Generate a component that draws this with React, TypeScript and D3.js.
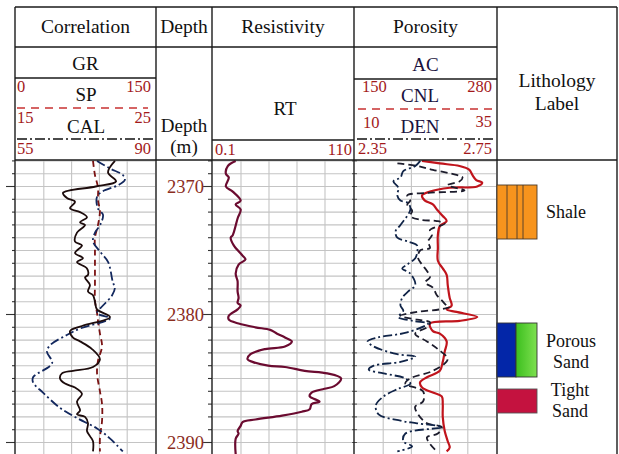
import React from 'react';
import * as d3 from 'd3';

// ---------------- data (depth in m, values in curve units) ----------------
const depthLabels = [2370, 2380, 2390];

const grDepth = [2368.0, 2368.9, 2369.6, 2370.0, 2370.5, 2370.9, 2371.2, 2371.7, 2372.0, 2372.4, 2372.8, 2373.0, 2373.6, 2374.3, 2374.6, 2375.2, 2375.6, 2375.9, 2376.4, 2376.9, 2377.1, 2377.7, 2378.2, 2378.5, 2379.0, 2379.6, 2380.2, 2380.9, 2381.3, 2381.8, 2382.1, 2382.7, 2383.5, 2384.1, 2384.4, 2384.6, 2385.0, 2385.4, 2385.7, 2386.2, 2386.8, 2387.5, 2387.8, 2388.0, 2388.5, 2389.1, 2389.5, 2389.9, 2390.7];
const grValue = [106.8, 99.3, 108.0, 86.0, 50.7, 55.0, 63.7, 58.3, 69.1, 76.6, 69.1, 74.5, 65.8, 63.7, 71.2, 63.7, 72.3, 65.8, 76.6, 77.7, 74.5, 79.8, 77.7, 83.1, 85.2, 87.4, 101.4, 71.2, 58.3, 61.5, 69.1, 82.0, 90.6, 83.1, 61.5, 49.6, 47.5, 52.9, 63.7, 71.2, 65.8, 69.1, 65.8, 74.5, 77.7, 76.6, 79.8, 83.1, 83.1];

const spDepth = [2368.0, 2369.1, 2370.1, 2371.1, 2371.9, 2373.0, 2374.0, 2375.0, 2376.4, 2377.7, 2378.9, 2379.9, 2380.5, 2381.5, 2382.5, 2383.6, 2384.6, 2386.0, 2387.0, 2388.3, 2389.6, 2390.7];
const spValue = [20.54, 20.68, 20.9, 20.9, 21.04, 20.9, 20.68, 20.68, 20.68, 20.68, 20.68, 20.83, 20.9, 21.04, 21.19, 20.9, 20.83, 21.04, 21.19, 21.19, 21.04, 21.04];

const calDepth = [2368.0, 2368.6, 2369.1, 2369.5, 2369.9, 2370.4, 2370.8, 2371.7, 2372.2, 2373.0, 2373.6, 2374.3, 2375.1, 2375.9, 2377.5, 2377.9, 2378.5, 2379.3, 2379.9, 2380.3, 2381.1, 2381.6, 2382.4, 2382.9, 2383.8, 2384.9, 2385.3, 2386.1, 2387.3, 2388.1, 2388.9, 2389.7, 2390.7];
const calValue = [75.4, 78.7, 81.9, 82.4, 80.7, 76.7, 75.4, 75.6, 76.9, 76.2, 74.9, 74.4, 76.2, 78.2, 79.4, 79.9, 79.2, 76.9, 75.4, 78.7, 71.1, 67.8, 63.6, 62.8, 64.1, 59.3, 59.3, 61.8, 66.1, 70.4, 75.4, 78.7, 81.9];

const rtDepth = [2368.0, 2368.4, 2369.0, 2369.3, 2370.0, 2370.4, 2371.1, 2371.4, 2371.8, 2372.5, 2373.8, 2374.0, 2374.6, 2375.4, 2375.7, 2376.1, 2376.8, 2377.4, 2378.2, 2378.7, 2379.1, 2379.3, 2379.6, 2380.1, 2380.4, 2380.7, 2381.0, 2381.2, 2381.5, 2381.8, 2382.1, 2382.5, 2382.7, 2383.1, 2383.5, 2383.7, 2384.0, 2384.1, 2384.4, 2384.6, 2385.0, 2385.6, 2385.8, 2386.1, 2386.4, 2386.8, 2387.0, 2387.4, 2387.6, 2387.9, 2388.2, 2388.4, 2388.7, 2389.1, 2389.3, 2389.7, 2390.9];
const rtValue = [17.9, 11.7, 10.2, 12.5, 10.2, 15.6, 21.8, 17.9, 21.8, 19.4, 15.6, 14.0, 16.4, 23.3, 25.6, 20.2, 17.9, 19.4, 19.4, 20.2, 19.4, 21.8, 19.4, 12.5, 12.5, 20.2, 33.4, 45.0, 50.4, 56.6, 62.0, 56.6, 41.1, 29.5, 27.2, 31.1, 43.4, 56.6, 72.1, 89.9, 100.7, 95.3, 87.6, 77.5, 76.0, 83.7, 77.5, 76.0, 69.8, 54.3, 33.4, 23.3, 21.8, 19.4, 20.2, 17.9, 17.9];

const acDepth = [2368.0, 2368.2, 2368.4, 2368.7, 2369.1, 2369.5, 2369.7, 2370.0, 2370.1, 2370.4, 2370.7, 2371.1, 2371.4, 2371.8, 2372.3, 2372.7, 2373.1, 2373.8, 2374.8, 2375.8, 2376.4, 2376.9, 2377.7, 2378.7, 2379.3, 2379.6, 2379.8, 2380.2, 2380.5, 2380.7, 2381.3, 2381.5, 2382.1, 2382.9, 2383.7, 2384.4, 2384.9, 2385.3, 2385.7, 2386.1, 2386.4, 2387.0, 2388.0, 2389.1, 2389.9, 2390.4, 2390.7];
const acValue = [211.8, 228.2, 246.4, 255.5, 258.2, 261.8, 267.3, 262.7, 237.3, 219.1, 211.8, 214.5, 221.8, 225.5, 230.9, 234.5, 228.2, 226.4, 226.4, 226.4, 230.9, 234.5, 235.5, 237.3, 239.1, 234.5, 243.6, 262.7, 246.4, 219.1, 221.8, 228.2, 234.5, 232.7, 230.9, 228.2, 216.4, 210.0, 211.8, 221.8, 230.0, 230.9, 230.9, 232.7, 235.5, 237.3, 234.5];

const cnlDepth = [2368.2, 2368.4, 2368.7, 2369.1, 2369.3, 2369.6, 2369.9, 2370.3, 2370.5, 2370.7, 2371.1, 2371.4, 2371.9, 2372.3, 2372.6, 2372.7, 2372.9, 2373.4, 2373.8, 2374.3, 2374.8, 2375.0, 2375.6, 2376.1, 2376.6, 2377.1, 2377.5, 2377.9, 2378.5, 2378.9, 2379.3, 2379.4, 2379.6, 2379.8, 2380.1, 2380.4, 2380.6, 2381.0, 2381.5, 2382.1, 2382.7, 2383.5, 2384.4, 2385.0, 2385.4, 2386.0, 2386.8, 2387.2, 2387.8, 2388.5, 2388.8, 2389.3, 2389.6, 2390.1, 2390.7];
const cnlValue = [17.52, 21.01, 23.81, 28.01, 29.06, 28.53, 26.43, 29.41, 22.76, 19.27, 19.79, 19.27, 20.14, 19.79, 21.54, 24.51, 25.91, 23.29, 23.64, 22.94, 23.29, 21.54, 21.19, 21.89, 22.76, 23.29, 22.41, 23.81, 24.51, 25.39, 26.26, 26.78, 25.04, 21.01, 18.04, 21.01, 23.29, 22.76, 20.66, 22.76, 24.69, 26.43, 23.81, 19.79, 18.92, 22.06, 22.06, 20.66, 21.19, 22.76, 25.39, 24.69, 22.76, 23.29, 24.51];

const denDepth = [2368.0, 2368.4, 2368.8, 2369.3, 2369.6, 2370.1, 2370.7, 2371.1, 2371.3, 2371.8, 2373.0, 2373.5, 2374.0, 2374.3, 2374.6, 2375.2, 2375.6, 2376.1, 2376.4, 2376.8, 2377.7, 2378.2, 2378.7, 2379.3, 2379.7, 2380.2, 2380.5, 2380.7, 2381.4, 2381.8, 2382.1, 2382.5, 2383.1, 2383.3, 2383.7, 2384.0, 2384.3, 2384.6, 2385.0, 2385.4, 2385.8, 2386.4, 2387.1, 2387.8, 2388.3, 2388.5, 2388.8, 2389.3, 2389.9, 2390.3, 2390.7];
const denValue = [2.535, 2.521, 2.487, 2.479, 2.459, 2.473, 2.47, 2.479, 2.501, 2.507, 2.479, 2.465, 2.47, 2.501, 2.526, 2.526, 2.521, 2.498, 2.484, 2.507, 2.521, 2.501, 2.484, 2.479, 2.487, 2.473, 2.515, 2.557, 2.498, 2.414, 2.386, 2.403, 2.47, 2.521, 2.479, 2.403, 2.389, 2.431, 2.493, 2.507, 2.473, 2.431, 2.409, 2.417, 2.479, 2.526, 2.596, 2.493, 2.487, 2.512, 2.47];

// scale labels
const grRange = [0, 150];
const spRange = [15, 25];
const calRange = [55, 90];
const rtRange = [0.1, 110];
const acRange = [150, 280];
const cnlRange = [10, 35];
const denRange = [2.35, 2.75];

const lithNames = ['Shale', 'Porous', 'Tight'];

const FONT = "'Liberation Serif','Times New Roman',serif";
const NUM = '#a3191b';

export default function App() {
  const W = 619, H = 454;
  const X = { l: 15, depthL: 156, resL: 212, porL: 354, lithL: 497, r: 617 };
  const topY = 7, titleB = 47, headB = 160;

  const y = d3.scaleLinear().domain([2370, 2390]).range([186.5, 442.5]);
  const corr: [number, number] = [16, 155];
  const res: [number, number] = [213, 353];
  const por: [number, number] = [355, 496];

  const xGR = d3.scaleLinear().domain(grRange).range(corr);
  const xSP = d3.scaleLinear().domain(spRange).range(corr);
  const xCAL = d3.scaleLinear().domain(calRange).range(corr);
  const xRT = d3.scaleLinear().domain(rtRange).range(res);
  const xAC = d3.scaleLinear().domain(acRange).range(por);
  const xCNL = d3.scaleLinear().domain(cnlRange).range(por);
  const xDEN = d3.scaleLinear().domain(denRange).range(por);

  const mk = (depths: number[], vals: number[], xs: any) =>
    d3.line<number>()
      .x((_, i) => xs(vals[i]))
      .y((d) => y(d))
      .curve(d3.curveCatmullRom.alpha(0.5))(depths) || '';

  const gridDepths = d3.range(2368, 2391);
  const tracks = [corr, res, por];
  const vgrid = (t: [number, number]) => d3.range(1, 5).map((k) => t[0] + ((t[1] - t[0]) * k) / 5);

  const border = '#1a1a1a';
  const txt = (x: number, yy: number, s: string, size: number, anchor = 'middle', fill = '#111') => (
    <text x={x} y={yy} fontSize={size} textAnchor={anchor} fill={fill} fontFamily={FONT}>{s}</text>
  );

  return (
    <svg width={W} height={H} style={{ position: 'absolute', left: 0, top: 0, background: '#fff' }}>
      <defs>
        <clipPath id="cCorr"><rect x={corr[0]} y={headB} width={corr[1] - corr[0]} height={H - headB} /></clipPath>
        <clipPath id="cRes"><rect x={res[0]} y={headB} width={res[1] - res[0]} height={H - headB} /></clipPath>
        <clipPath id="cPor"><rect x={por[0]} y={headB} width={por[1] - por[0]} height={H - headB} /></clipPath>
        <linearGradient id="gGreen" x1="0" x2="1" y1="0" y2="0">
          <stop offset="0" stopColor="#3cbf1e" />
          <stop offset="1" stopColor="#7ee050" />
        </linearGradient>
      </defs>
      <rect x={0} y={0} width={W} height={H} fill="#fff" />

      {/* grids */}
      {tracks.map((t, ti) => (
        <g key={'g' + ti}>
          {gridDepths.map((d) => (
            <line key={d} x1={t[0]} x2={t[1]} y1={y(d)} y2={y(d)} stroke="#c4c4c4" strokeWidth={1.1} />
          ))}
          {vgrid(t).map((gx) => (
            <line key={gx} x1={gx} x2={gx} y1={headB} y2={H} stroke="#c4c4c4" strokeWidth={1.1} />
          ))}
        </g>
      ))}

      {/* depth ticks */}
      {gridDepths.map((d) => {
        const major = d % 10 === 0;
        return (
          <g key={'t' + d}>
            <line x1={major ? 6 : 12} x2={X.l} y1={y(d)} y2={y(d)} stroke="#333" strokeWidth={1.1} />
            <line x1={major ? 203 : 208} x2={X.resL} y1={y(d)} y2={y(d)} stroke="#333" strokeWidth={1.1} />
            <line x1={X.porL - 2} x2={X.porL + 3} y1={y(d)} y2={y(d)} stroke="#555" strokeWidth={1} />
          </g>
        );
      })}
      {depthLabels.map((d) => txt(204, y(d) + 6.5, String(d), 18.5, 'end', '#8b2e1e'))}

      {/* curves */}
      <g clipPath="url(#cCorr)" fill="none" strokeLinejoin="round">
        <path d={mk(spDepth, spValue, xSP)} stroke="#7a1212" strokeWidth={1.8} strokeDasharray="6,4" />
        <path d={mk(calDepth, calValue, xCAL)} stroke="#13285e" strokeWidth={1.8} strokeDasharray="9,3,2,3" />
        <path d={mk(grDepth, grValue, xGR)} stroke="#1d0c0c" strokeWidth={1.8} />
      </g>
      <g clipPath="url(#cRes)" fill="none">
        <path d={mk(rtDepth, rtValue, xRT)} stroke="#6b0b30" strokeWidth={2.2} />
      </g>
      <g clipPath="url(#cPor)" fill="none" strokeLinejoin="round">
        <path d={mk(acDepth, acValue, xAC)} stroke="#c0141c" strokeWidth={2.2} />
        <path d={mk(cnlDepth, cnlValue, xCNL)} stroke="#1c1c2c" strokeWidth={1.8} strokeDasharray="7,4" />
        <path d={mk(denDepth, denValue, xDEN)} stroke="#102448" strokeWidth={1.8} strokeDasharray="9,3,2,3" />
      </g>

      {/* frame */}
      <g stroke={border} strokeWidth={1.4} fill="none">
        <line x1={X.l} x2={X.r} y1={topY} y2={topY} />
        <line x1={X.l} x2={X.lithL} y1={titleB} y2={titleB} />
        <line x1={X.l} x2={X.r} y1={headB} y2={headB} />
        {[X.l, X.depthL, X.resL, X.porL, X.lithL, X.r].map((xx) => (
          <line key={xx} x1={xx} x2={xx} y1={topY} y2={H} />
        ))}
        <line x1={X.l} x2={X.depthL} y1={78} y2={78} />
        <line x1={X.resL} x2={X.porL} y1={140} y2={140} />
        <line x1={X.porL} x2={X.lithL} y1={79} y2={79} />
      </g>
      {/* header curve-style lines */}
      <line x1={17} x2={148} y1={108} y2={108} stroke="#c83232" strokeWidth={1.4} strokeDasharray="8,6" />
      <line x1={17} x2={153} y1={139} y2={139} stroke="#111" strokeWidth={1.3} strokeDasharray="10,3,2,3" />
      <line x1={358} x2={494} y1={109} y2={109} stroke="#c83232" strokeWidth={1.4} strokeDasharray="8,6" />
      <line x1={357} x2={495} y1={139} y2={139} stroke="#111" strokeWidth={1.3} strokeDasharray="10,3,2,3" />

      {/* header text */}
      {txt(85.5, 33, 'Correlation', 19.5)}
      {txt(184, 33, 'Depth', 19.5)}
      {txt(283, 33, 'Resistivity', 19.5)}
      {txt(425.5, 33, 'Porosity', 19.5)}
      {txt(557, 87, 'Lithology', 19.5)}
      {txt(557, 110, 'Label', 19.5)}

      {txt(85.5, 70, 'GR', 19)}
      {txt(17, 92, String(grRange[0]), 16.5, 'start', NUM)}
      {txt(86, 101, 'SP', 19)}
      {txt(151, 92, String(grRange[1]), 16.5, 'end', NUM)}
      {txt(17, 123, String(spRange[0]), 16.5, 'start', NUM)}
      {txt(86, 133, 'CAL', 19)}
      {txt(151, 123, String(spRange[1]), 16.5, 'end', NUM)}
      {txt(17, 154, String(calRange[0]), 16.5, 'start', NUM)}
      {txt(151, 154, String(calRange[1]), 16.5, 'end', NUM)}

      {txt(184, 132, 'Depth', 19)}
      {txt(184, 153, '(m)', 19)}

      {txt(285, 115, 'RT', 19)}
      {txt(215, 155, String(rtRange[0]), 16.5, 'start', NUM)}
      {txt(352, 155, String(rtRange[1]), 16.5, 'end', NUM)}

      {txt(425.5, 71, 'AC', 19, 'middle', '#1a1240')}
      {txt(362, 92, String(acRange[0]), 16.5, 'start', NUM)}
      {txt(420, 102, 'CNL', 19, 'middle', '#1a1240')}
      {txt(492, 92, String(acRange[1]), 16.5, 'end', NUM)}
      {txt(363, 128, String(cnlRange[0]), 16.5, 'start', NUM)}
      {txt(420, 133, 'DEN', 19, 'middle', '#1a1240')}
      {txt(492, 127, String(cnlRange[1]), 16.5, 'end', NUM)}
      {txt(358, 154, denRange[0].toFixed(2), 16.5, 'start', NUM)}
      {txt(492, 154, denRange[1].toFixed(2), 16.5, 'end', NUM)}

      {/* lithology legend */}
      <rect x={497} y={185} width={40} height={54} fill="#f7941d" stroke="#4a3a2a" strokeWidth={0.9} />
      {[507, 517, 523].map((lx) => (
        <line key={lx} x1={lx} x2={lx} y1={185} y2={239} stroke="#4a3a2a" strokeWidth={0.9} />
      ))}
      <rect x={497} y={323} width={19} height={54} fill="#0326a8" stroke="#333" strokeWidth={0.9} />
      <rect x={516} y={323} width={21} height={54} fill="url(#gGreen)" stroke="#333" strokeWidth={0.9} />
      <rect x={497} y={389} width={40} height={24} fill="#c4123f" stroke="#555" strokeWidth={0.9} />
      {txt(566, 218, lithNames[0], 18)}
      {txt(571, 347, lithNames[1], 18)}
      {txt(571, 368, 'Sand', 18)}
      {txt(570, 396, lithNames[2], 18)}
      {txt(570, 417, 'Sand', 18)}
    </svg>
  );
}
